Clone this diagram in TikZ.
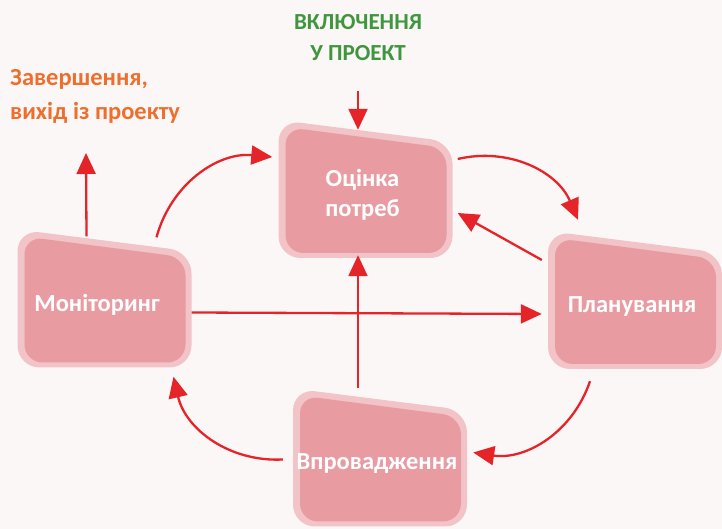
\documentclass[tikz,border=0pt]{standalone}
\usepackage{fontspec}
\setmainfont{Carlito}
\usetikzlibrary{arrows.meta}

\definecolor{bgcol}{HTML}{FBF7F6}
\definecolor{stageouter}{HTML}{F2C3C7}
\definecolor{stageinner}{HTML}{E89CA2}
\definecolor{arrred}{HTML}{E5242A}
\definecolor{ingreen}{HTML}{3F963F}
\definecolor{outorange}{HTML}{EE6F2D}

\tikzset{
	stage/.style={minimum width=180pt, minimum height=150pt, inner sep=0pt,
		text=white, align=center,
		font=\bfseries\fontsize{24.5pt}{30pt}\selectfont,
		path picture={
			\fill[stageouter, rounded corners=22pt]
				([shift={(-84pt,75pt)}]path picture bounding box.center)
				-- ++(174pt,-22pt) -- ++(0pt,-116pt) -- ++(-174pt,0pt) -- cycle;
			\fill[stageinner, rounded corners=18pt]
				([shift={(-77pt,68pt)}]path picture bounding box.center)
				-- ++(161pt,-21pt) -- ++(0pt,-105pt) -- ++(-161pt,0pt) -- cycle;
		}},
	arr/.style={draw=arrred, line width=2.3pt, -{Triangle[length=21pt,width=19pt]}},
	intext/.style={text=ingreen, align=center, inner sep=0pt,
		font=\bfseries\fontsize{23pt}{31pt}\selectfont},
	outtext/.style={text=outorange, align=left, inner sep=0pt,
		font=\bfseries\fontsize{24.5pt}{34pt}\selectfont}
}

\begin{document}
\begin{tikzpicture}[x=1pt,y=1pt]
	\fill[bgcol] (0,0) rectangle (722,529);
	\useasboundingbox (0,0) rectangle (722,529);

	% stages of the cycle
	\node[stage] (ocinka)  at (362.5,334)  {Оцінка\\потреб};
	\node[stage] (monitor) at (101.5,224.5) {\hspace*{-9pt}Моніторинг};
	\node[stage] (plan)    at (632,223)    {Планування};
	\node[stage] (vprov)   at (377,65.5)   {Впровадження};

	% entry and exit
	\node[intext] (vkl) at (358,491) {ВКЛЮЧЕННЯ\\У ПРОЕКТ};
	\node[outtext, anchor=west] (zaversh) at (10,433) {Завершення,\\вихід із проекту};
	\coordinate (exit) at (86,376);

	\draw[arr, shorten <=30pt, shorten >=-10pt] (vkl.south) -- (vkl.south |- ocinka.north);
	\draw[arr] ([xshift=55pt,yshift=-8pt]monitor.north) to[bend left=40] ([yshift=38pt]ocinka.west);
	\draw[arr] ([xshift=5pt,yshift=36pt]ocinka.east) to[bend left=40] ([xshift=-54pt,yshift=11pt]plan.north);
	\draw[arr] ([yshift=46pt]plan.west) -- ([xshift=5pt,yshift=-18pt]ocinka.east);
	\draw[arr] ([xshift=-42pt]plan.south) to[bend left=40] ([xshift=6pt,yshift=11pt]vprov.east);
	\draw[arr] ([xshift=-4pt,yshift=4pt]vprov.west) to[bend left=40] ([xshift=72pt,yshift=3pt]monitor.south);
	\draw[arr] ([xshift=-15pt,yshift=-7pt]monitor.north) -- (exit);
	\draw[arr] ([yshift=-8pt]monitor.east) -- ([yshift=-8pt]plan.west);
	\draw[arr] ([xshift=-19pt]vprov.north) -- ([xshift=-4.5pt,yshift=15pt]ocinka.south);
\end{tikzpicture}
\end{document}
